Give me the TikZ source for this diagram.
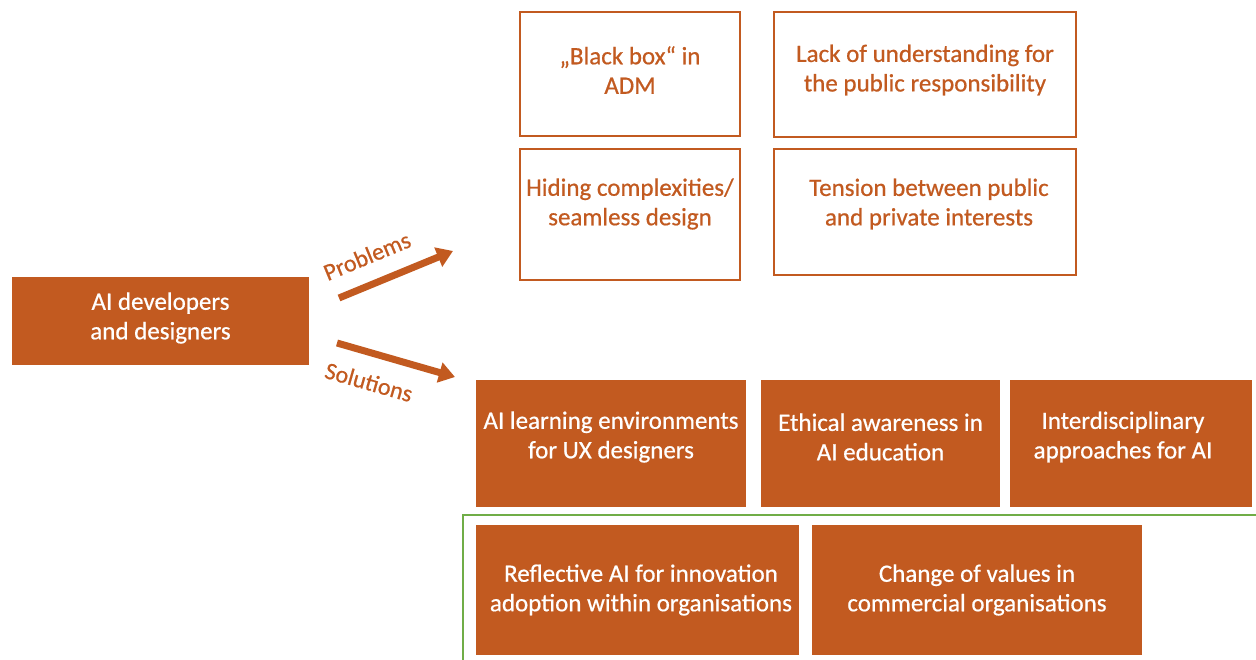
\documentclass[tikz,border=0pt]{standalone}
\usepackage{fontspec}
\setmainfont{Carlito}[FakeBold=0.6]
\usetikzlibrary{arrows.meta}
\definecolor{ora}{HTML}{C25A20}
\definecolor{grn}{HTML}{70AD47}
\begin{document}
\begin{tikzpicture}[x=1pt,y=-1pt,
  txt/.style={font=\fontsize{25}{29.5}\selectfont,align=center,inner sep=0pt},
  probbox/.style={draw=ora,line width=1.3pt,fill=white},
  solbox/.style={fill=ora},
  arr/.style={ora,line width=7pt,-{Triangle[length=16pt,width=20pt]}},
  lbl/.style={ora,font=\fontsize{24}{28}\selectfont,inner sep=0pt}]
\useasboundingbox (0,0) rectangle (1256,660);
% green frame
\coordinate (g1) at (463,662);
\coordinate (g2) at (463,515);
\coordinate (g3) at (1258,515);
\draw[grn,line width=2pt] (g1) -- (g2) -- (g3);
% main box
\path[solbox] (12,277) rectangle (309,365);
\node[txt,white] (main) at (160.5,318) {AI developers\\and designers};
% problem boxes
\draw[probbox] (520,12) rectangle (740,136);
\node[txt,ora] (p1) at (630,70) {„Black box“ in\\ADM};
\draw[probbox] (774,12) rectangle (1076,137);
\node[txt,ora] (p2) at (925,70) {Lack of understanding for\\the public responsibility};
\draw[probbox] (520,149) rectangle (740,280);
\node[txt,ora] (p3) at (630,204) {Hiding complexities/\\seamless design};
\draw[probbox] (774,149) rectangle (1076,275);
\node[txt,ora] (p4) at (929,204) {Tension between public\\and private interests};
% solution boxes
\path[solbox] (476,380) rectangle (746,507);
\node[txt,white] (s1) at (611,437) {AI learning environments\\for UX designers};
\path[solbox] (761,380) rectangle (1000,507);
\node[txt,white] (s2) at (880.5,437) {Ethical awareness in\\AI education};
\path[solbox] (1010,380) rectangle (1252,507);
\node[txt,white] (s3) at (1123,437) {Interdisciplinary\\approaches for AI};
\path[solbox] (476,525) rectangle (799,655);
\node[txt,white] (s4) at (641,590) {Reflective AI for innovation\\adoption within organisations};
\path[solbox] (812,525) rectangle (1142,655);
\node[txt,white] (s5) at (977,590) {Change of values in\\commercial organisations};
% arrows
\coordinate (a1s) at (339,298);
\coordinate (a1e) at (453,251);
\coordinate (a2s) at (337,343);
\coordinate (a2e) at (455,377);
\draw[arr] (a1s) -- (a1e);
\draw[arr] (a2s) -- (a2e);
\node[lbl,rotate=22.5] (lp) at (367,256) {Problems};
\node[lbl,rotate=-16] (ls) at (369,382) {Solutions};
\end{tikzpicture}
\end{document}
